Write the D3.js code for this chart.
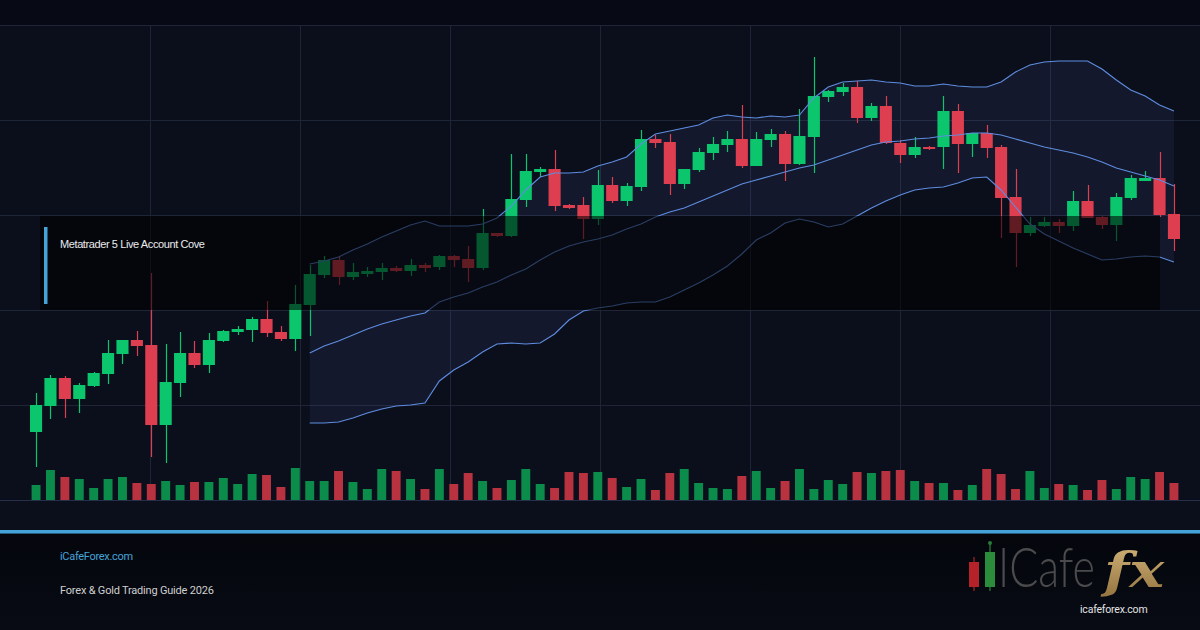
<!DOCTYPE html>
<html>
<head>
<meta charset="utf-8">
<script src="https://cdn.jsdelivr.net/npm/d3@7/dist/d3.min.js"></script>
<style>
    html, body { margin: 0; padding: 0; background: #0b0f1c; }
    #chart { width: 1200px; height: 630px; overflow: hidden; }
    svg { display: block; }
</style>
</head>
<body>
<div id="chart"></div>
<script>
// OHLC per candle (index = candle number)
var candleOpen = [1868, 1894, 1922, 1901, 1914, 1926, 1946, 1960, 1955, 1875, 1917, 1947, 1935, 1959, 1968, 1970, 1981, 1968, 1961, 1995,
    2025, 2040, 2023, 2026, 2028, 2032, 2029, 2035, 2033, 2044, 2041, 2032, 2067, 2064, 2100, 2128, 2131, 2095, 2095, 2081,
    2115, 2099, 2113, 2161, 2158, 2116, 2130, 2147, 2155, 2161, 2134, 2160, 2166, 2136, 2163, 2203, 2208, 2213, 2182, 2194,
    2157, 2145, 2153, 2153, 2189, 2156, 2167, 2153, 2103, 2067, 2074, 2078, 2074, 2099, 2083, 2075, 2102, 2119, 2122, 2086];
var candleHigh = [1907, 1925, 1924, 1917, 1928, 1960, 1960, 1969, 2027, 1956, 1968, 1959, 1967, 1970, 1974, 1983, 1999, 1974, 2015, 2035,
    2044, 2044, 2037, 2033, 2037, 2034, 2041, 2037, 2045, 2045, 2054, 2091, 2067, 2146, 2146, 2133, 2150, 2096, 2103, 2130,
    2123, 2117, 2170, 2165, 2166, 2131, 2152, 2163, 2169, 2195, 2168, 2171, 2169, 2191, 2243, 2210, 2217, 2219, 2197, 2204,
    2160, 2163, 2154, 2204, 2196, 2167, 2175, 2155, 2131, 2083, 2083, 2081, 2109, 2115, 2084, 2107, 2125, 2129, 2148, 2116];
var candleLow = [1833, 1881, 1882, 1887, 1913, 1916, 1936, 1944, 1843, 1837, 1903, 1932, 1927, 1958, 1965, 1958, 1963, 1959, 1949, 1964,
    2022, 2015, 2020, 2023, 2020, 2028, 2024, 2028, 2030, 2033, 2018, 2030, 2063, 2063, 2093, 2123, 2089, 2091, 2061, 2075,
    2097, 2094, 2109, 2152, 2105, 2111, 2128, 2140, 2148, 2132, 2134, 2153, 2119, 2135, 2127, 2198, 2204, 2177, 2179, 2156,
    2137, 2142, 2150, 2131, 2127, 2143, 2142, 2062, 2033, 2064, 2073, 2067, 2069, 2082, 2071, 2059, 2100, 2119, 2083, 2049];
var candleClose = [1895, 1922, 1901, 1915, 1927, 1947, 1960, 1954, 1875, 1918, 1947, 1935, 1960, 1969, 1971, 1981, 1967, 1961, 1996, 2026,
    2040, 2023, 2028, 2029, 2032, 2029, 2035, 2032, 2044, 2040, 2032, 2067, 2064, 2101, 2129, 2131, 2094, 2092, 2081, 2115,
    2099, 2114, 2161, 2157, 2116, 2131, 2148, 2156, 2161, 2134, 2161, 2166, 2136, 2164, 2204, 2209, 2213, 2182, 2194, 2157,
    2145, 2153, 2151, 2189, 2156, 2167, 2152, 2102, 2067, 2075, 2078, 2074, 2099, 2082, 2075, 2103, 2122, 2122, 2085, 2061];
var volumes = [1500, 3000, 2300, 2100, 1200, 2100, 2300, 1700, 1600, 1900, 1500, 1800, 1800, 2200, 1600, 2600, 2500, 1300, 3200, 1900,
    1900, 2900, 1800, 1100, 3100, 2900, 2100, 1100, 3100, 1600, 2700, 1900, 1200, 2000, 3100, 1600, 1200, 2800, 2700, 2800,
    2200, 1300, 2100, 1000, 2700, 3100, 1700, 1200, 1100, 2400, 2900, 1200, 1900, 3100, 1100, 2000, 1600, 2800, 2700, 2900,
    3000, 1900, 1700, 1700, 1000, 1500, 3100, 2600, 1100, 2900, 1200, 1600, 1500, 1000, 2000, 1100, 2300, 2100, 2800, 1700];

// Bollinger bands start at candle 19
var bandStart = 19;
var bandUpper = [2036, 2039, 2043, 2050, 2056, 2063, 2069, 2075, 2079, 2074, 2074, 2074, 2076, 2082, 2094, 2110, 2123, 2127, 2127, 2128,
    2134, 2138, 2143, 2156, 2166, 2169, 2172, 2175, 2182, 2185, 2183, 2182, 2184, 2183, 2185, 2202, 2213, 2218, 2219, 2220,
    2218, 2217, 2214, 2214, 2216, 2214, 2213, 2213, 2218, 2228, 2235, 2238, 2239, 2239, 2239, 2231, 2220, 2210, 2204, 2195, 2189];
var bandMiddle = [1947, 1954, 1959, 1965, 1971, 1976, 1980, 1984, 1987, 1998, 2003, 2007, 2013, 2018, 2025, 2031, 2040, 2048, 2054, 2058,
    2061, 2065, 2071, 2076, 2083, 2088, 2092, 2098, 2104, 2110, 2116, 2120, 2124, 2128, 2132, 2135, 2140, 2145, 2150, 2155,
    2158, 2159, 2161, 2162, 2164, 2165, 2167, 2167, 2165, 2161, 2157, 2153, 2150, 2147, 2143, 2138, 2132, 2128, 2124, 2120, 2114];
var bandLower = [1877, 1877, 1878, 1882, 1887, 1891, 1894, 1895, 1897, 1919, 1930, 1938, 1948, 1956, 1957, 1956, 1957, 1966, 1980, 1989,
    1992, 1994, 1997, 1998, 1998, 2003, 2010, 2017, 2025, 2034, 2046, 2060, 2067, 2077, 2081, 2078, 2073, 2076, 2084, 2092,
    2099, 2105, 2110, 2112, 2113, 2117, 2122, 2123, 2110, 2093, 2076, 2066, 2059, 2052, 2046, 2040, 2041, 2043, 2044, 2043, 2038];

var priceGridLines = [1800, 1895, 1990, 2085, 2180, 2275];
var timeGridLines = [1, 2, 3, 4, 5, 6, 7]; // eighths of the frame width

var cardTitle = "Metatrader 5 Live Account Cove";
var footerSite = "iCafeForex.com";
var footerGuide = "Forex & Gold Trading Guide 2026";

var COLORS = {
    up: "#0bc66c",
    down: "#dd3f50",
    volUp: "#0b8c4b",
    volDown: "#b8323f",
    band: "#5f8de0",
    grid: "#1e2537",
    accent: "#45a3d8"
};

var width = 1200, height = 630;

var svg = d3.select("#chart").append("svg")
    .attr("width", width)
    .attr("height", height);

var defs = svg.append("defs");
var footGrad = defs.append("linearGradient")
    .attr("id", "foot-grad")
    .attr("x1", 0).attr("y1", 0).attr("x2", 0).attr("y2", 1);
footGrad.append("stop").attr("offset", "0%").attr("stop-color", "#04060c");
footGrad.append("stop").attr("offset", "100%").attr("stop-color", "#080b14");

var goldGrad = defs.append("linearGradient")
    .attr("id", "gold-grad")
    .attr("x1", 0).attr("y1", 0).attr("x2", 0).attr("y2", 1);
goldGrad.append("stop").attr("offset", "0%").attr("stop-color", "#d2b47a");
goldGrad.append("stop").attr("offset", "100%").attr("stop-color", "#94733e");

// backgrounds
svg.append("rect").attr("width", width).attr("height", 25).attr("fill", "#070a14");
svg.append("rect").attr("y", 25).attr("width", width).attr("height", 505).attr("fill", "#0b0f1c");
svg.append("rect").attr("y", 534).attr("width", width).attr("height", 96).attr("fill", "url(#foot-grad)");
svg.append("rect").attr("y", 530).attr("width", width).attr("height", 3.5).attr("fill", COLORS.accent);

// scales
var idx = d3.range(candleOpen.length);
var xScale = d3.scaleBand()
    .domain(idx)
    .range([30, 1180])
    .paddingInner(0.16);
var step = xScale.step();
var cx = function(i) { return xScale(i) + xScale.bandwidth() / 2; };

var gridX = d3.scaleLinear()
    .domain([0, 8])
    .range([0, width]);

var yScale = d3.scaleLinear()
    .domain([1800, 2275])
    .range([500, 25]);

var volScale = d3.scaleLinear()
    .domain([0, 3200])
    .range([500, 468]);

// grid
var grid = svg.append("g").attr("class", "grid");
grid.selectAll("line.h")
    .data(priceGridLines)
    .enter().append("line")
    .attr("class", "h")
    .attr("x1", 0).attr("x2", width)
    .attr("y1", function(d) { return Math.round(yScale(d)) + 0.5; })
    .attr("y2", function(d) { return Math.round(yScale(d)) + 0.5; })
    .attr("stroke", function(d, i) { return i === 0 ? "#283047" : COLORS.grid; })
    .attr("stroke-width", 1);

grid.selectAll("line.v")
    .data(timeGridLines)
    .enter().append("line")
    .attr("class", "v")
    .attr("x1", function(d) { return Math.round(gridX(d)) + 0.5; })
    .attr("x2", function(d) { return Math.round(gridX(d)) + 0.5; })
    .attr("y1", yScale(2275))
    .attr("y2", yScale(1800))
    .attr("stroke", COLORS.grid)
    .attr("stroke-width", 1);

// bollinger band fill + lines
var bandData = bandUpper.map(function(u, k) {
    return { i: bandStart + k, upper: u, middle: bandMiddle[k], lower: bandLower[k] };
});

var area = d3.area()
    .x(function(d) { return cx(d.i); })
    .y0(function(d) { return yScale(d.lower); })
    .y1(function(d) { return yScale(d.upper); });

svg.append("path")
    .datum(bandData)
    .attr("d", area)
    .attr("fill", "#7aa0ff")
    .attr("fill-opacity", 0.07);

// volume bars
var volW = step * 0.62;
svg.append("g").selectAll("rect")
    .data(idx)
    .enter().append("rect")
    .attr("x", function(i) { return cx(i) - volW / 2; })
    .attr("y", function(i) { return volScale(volumes[i]); })
    .attr("width", volW)
    .attr("height", function(i) { return volScale(0) - volScale(volumes[i]); })
    .attr("fill", function(i) { return candleClose[i] >= candleOpen[i] ? COLORS.volUp : COLORS.volDown; });

// candles
var candles = svg.append("g").selectAll("g")
    .data(idx)
    .enter().append("g")
    .attr("class", "candle");

candles.append("line")
    .attr("x1", function(i) { return Math.round(cx(i)) + 0.5; })
    .attr("x2", function(i) { return Math.round(cx(i)) + 0.5; })
    .attr("y1", function(i) { return yScale(candleHigh[i]); })
    .attr("y2", function(i) { return yScale(candleLow[i]); })
    .attr("stroke", function(i) { return candleClose[i] >= candleOpen[i] ? COLORS.up : COLORS.down; })
    .attr("stroke-width", 1.2);

candles.append("rect")
    .attr("x", function(i) { return xScale(i); })
    .attr("y", function(i) { return yScale(Math.max(candleOpen[i], candleClose[i])); })
    .attr("width", xScale.bandwidth())
    .attr("height", function(i) {
        return Math.max(1.5, Math.abs(yScale(candleOpen[i]) - yScale(candleClose[i])));
    })
    .attr("fill", function(i) { return candleClose[i] >= candleOpen[i] ? COLORS.up : COLORS.down; });

// band lines drawn on top of candles
["upper", "middle", "lower"].forEach(function(key) {
    var line = d3.line()
        .x(function(d) { return cx(d.i); })
        .y(function(d) { return yScale(d[key]); });
    svg.append("path")
        .datum(bandData)
        .attr("d", line)
        .attr("fill", "none")
        .attr("stroke", COLORS.band)
        .attr("stroke-width", 1.1);
});

// dark card over the chart, sits between two grid rows
var cardTop = Math.round(yScale(priceGridLines[3])) + 1;
var cardBottom = Math.round(yScale(priceGridLines[2]));
svg.append("rect")
    .attr("x", 40)
    .attr("y", cardTop)
    .attr("width", 1120)
    .attr("height", cardBottom - cardTop)
    .attr("fill", "#000")
    .attr("fill-opacity", 0.56);

svg.append("rect")
    .attr("x", 44)
    .attr("y", 227)
    .attr("width", 3.5)
    .attr("height", 77)
    .attr("fill", COLORS.accent);

svg.append("text")
    .attr("x", 60)
    .attr("y", 248)
    .attr("fill", "#ececec")
    .style("font-family", "'Liberation Sans', Arial, sans-serif")
    .style("font-size", "11px")
    .style("letter-spacing", "-0.4px")
    .text(cardTitle);

// footer
svg.append("text")
    .attr("x", 60)
    .attr("y", 560)
    .attr("fill", COLORS.accent)
    .style("font-family", "Roboto, sans-serif")
    .style("font-size", "11px")
    .style("letter-spacing", "-0.3px")
    .text(footerSite);

svg.append("text")
    .attr("x", 60)
    .attr("y", 594)
    .attr("fill", "#cfcfcf")
    .style("font-family", "Roboto, sans-serif")
    .style("font-size", "11px")
    .style("letter-spacing", "-0.2px")
    .text(footerGuide);

// logo
var logo = svg.append("g").attr("class", "logo");
logo.append("line").attr("x1", 974).attr("x2", 974).attr("y1", 557).attr("y2", 591)
    .attr("stroke", "#8a1c20").attr("stroke-width", 1.5);
logo.append("rect").attr("x", 969).attr("y", 562).attr("width", 10).attr("height", 25).attr("fill", "#b5222a");
logo.append("line").attr("x1", 990).attr("x2", 990).attr("y1", 544).attr("y2", 591)
    .attr("stroke", "#1f6a30").attr("stroke-width", 1.5);
logo.append("circle").attr("cx", 990).attr("cy", 543).attr("r", 2).attr("fill", "#2a7a3a");
logo.append("rect").attr("x", 985).attr("y", 552).attr("width", 10).attr("height", 35).attr("fill", "#2b8c3c");

// word mark is stretched vertically so it keeps its narrow width
logo.append("text")
    .attr("transform", "translate(998,587) scale(1,1.26)")
    .attr("fill", "#4b4b4d")
    .style("font-family", "Lato, sans-serif")
    .style("font-weight", 300)
    .style("font-size", "43px")
    .text("ICafe");

logo.append("text")
    .attr("transform", "translate(1104,587) scale(1.22,1)")
    .attr("fill", "url(#gold-grad)")
    .style("font-family", "'DejaVu Serif', serif")
    .style("font-style", "italic")
    .style("font-weight", "bold")
    .style("font-size", "48px")
    .text("fx");

logo.append("text")
    .attr("x", 1080)
    .attr("y", 613)
    .attr("fill", "#e4e4e4")
    .style("font-family", "Roboto, sans-serif")
    .style("font-size", "10.5px")
    .style("letter-spacing", "-0.2px")
    .text("icafeforex.com");
</script>
</body>
</html>
